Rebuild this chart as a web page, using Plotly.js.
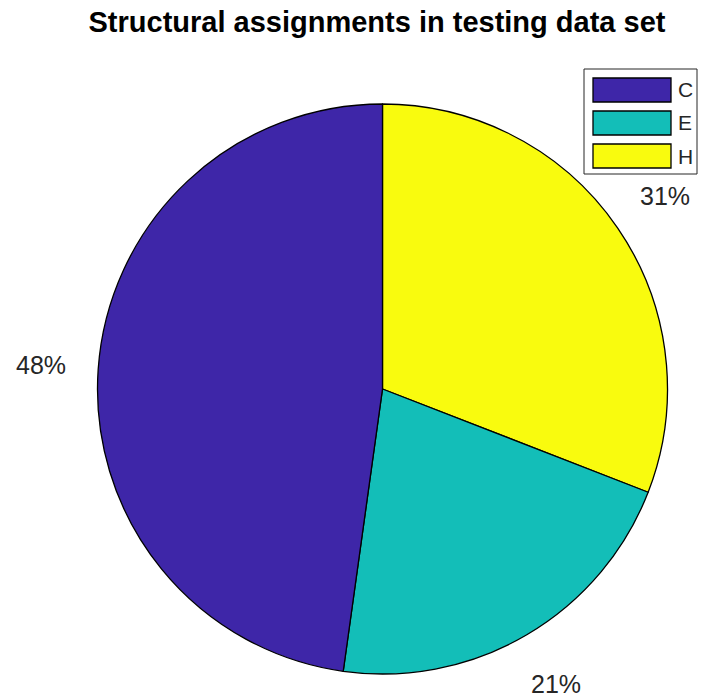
<!DOCTYPE html>
<html>
<head>
<meta charset="utf-8">
<script src="https://cdn.plot.ly/plotly-3.0.1.min.js"></script>
<style>html,body{margin:0;padding:0;background:#fff;}#chart{width:703px;height:698px;}</style>
</head>
<body>
<div id="chart"></div>
<script>
// Data
const categories = ['C', 'E', 'H'];
const shares = [47.8, 21.3, 30.9];
const sliceColors = ['#3E26A8', '#13BEB8', '#F9FB0E'];
const chartTitle = 'Structural assignments in testing data set';

const W = 703, H = 698;
const px = x => x / W;
const py = y => 1 - y / H;

// Pie geometry (layout)
const cx = 382.5, cy = 389, R = 285;

// MATLAB draws counter-clockwise from 12 o'clock; Plotly 'clockwise' from 12 o'clock with reversed order is equivalent
const revLabels = categories.slice().reverse();
const revValues = shares.slice().reverse();
const revColors = sliceColors.slice().reverse();

const pieTrace = {
  type: 'pie',
  labels: revLabels,
  values: revValues,
  sort: false,
  direction: 'clockwise',
  rotation: 0,
  marker: { colors: revColors, line: { color: '#000000', width: 1.3 } },
  textinfo: 'none',
  hoverinfo: 'none',
  showlegend: false,
  domain: { x: [px(cx - R), px(cx + R)], y: [py(cy + R), py(cy - R)] }
};

const shapes = [];
const annotations = [];

// Percent labels at 1.2 * radius on each slice's mid-angle (MATLAB pie convention)
const total = shares.reduce((a, b) => a + b, 0);
let cum = 0;
shares.forEach((v, i) => {
  const mid = (cum + v / 2) / total * 2 * Math.PI; // counter-clockwise from 12 o'clock
  cum += v;
  const x = cx - 1.2 * R * Math.sin(mid);
  const y = cy - 1.2 * R * Math.cos(mid);
  annotations.push({ xref: 'paper', yref: 'paper', x: px(x), y: py(y),
    xanchor: 'center', yanchor: 'middle', showarrow: false,
    text: Math.round(v / total * 100) + '%',
    font: { family: 'Liberation Sans, Arial, sans-serif', size: 25, color: '#262626' } });
});

// Legend drawn as shapes + annotations, built from categories/colors
const legTop = 69, legLeft = 584, legRight = 697, legBottom = 174;
shapes.push({ type: 'rect', xref: 'paper', yref: 'paper',
  x0: px(legLeft), x1: px(legRight), y0: py(legBottom), y1: py(legTop),
  line: { color: '#262626', width: 1 }, fillcolor: '#ffffff', layer: 'above' });
const rowTop = [78, 111, 144], rowH = 24;
categories.forEach((c, i) => {
  shapes.push({ type: 'rect', xref: 'paper', yref: 'paper',
    x0: px(593), x1: px(671), y0: py(rowTop[i] + rowH), y1: py(rowTop[i]),
    line: { color: '#000000', width: 1.3 }, fillcolor: sliceColors[i], layer: 'above' });
  annotations.push({ xref: 'paper', yref: 'paper', x: px(676), y: py(rowTop[i] + rowH / 2),
    xanchor: 'left', yanchor: 'middle', showarrow: false, text: c,
    font: { family: 'Liberation Sans, Arial, sans-serif', size: 21, color: '#262626' } });
});

const layout = {
  width: W, height: H,
  margin: { l: 0, r: 0, t: 0, b: 0 },
  paper_bgcolor: '#ffffff',
  showlegend: false,
  title: { text: '<b>' + chartTitle + '</b>', x: px(377), xanchor: 'center', y: py(22), yanchor: 'middle', yref: 'container',
    font: { family: 'Liberation Sans, Arial, sans-serif', size: 29, color: '#000000' } },
  shapes: shapes,
  annotations: annotations
};

Plotly.newPlot('chart', [pieTrace], layout, { displayModeBar: false, staticPlot: true });
</script>
</body>
</html>
